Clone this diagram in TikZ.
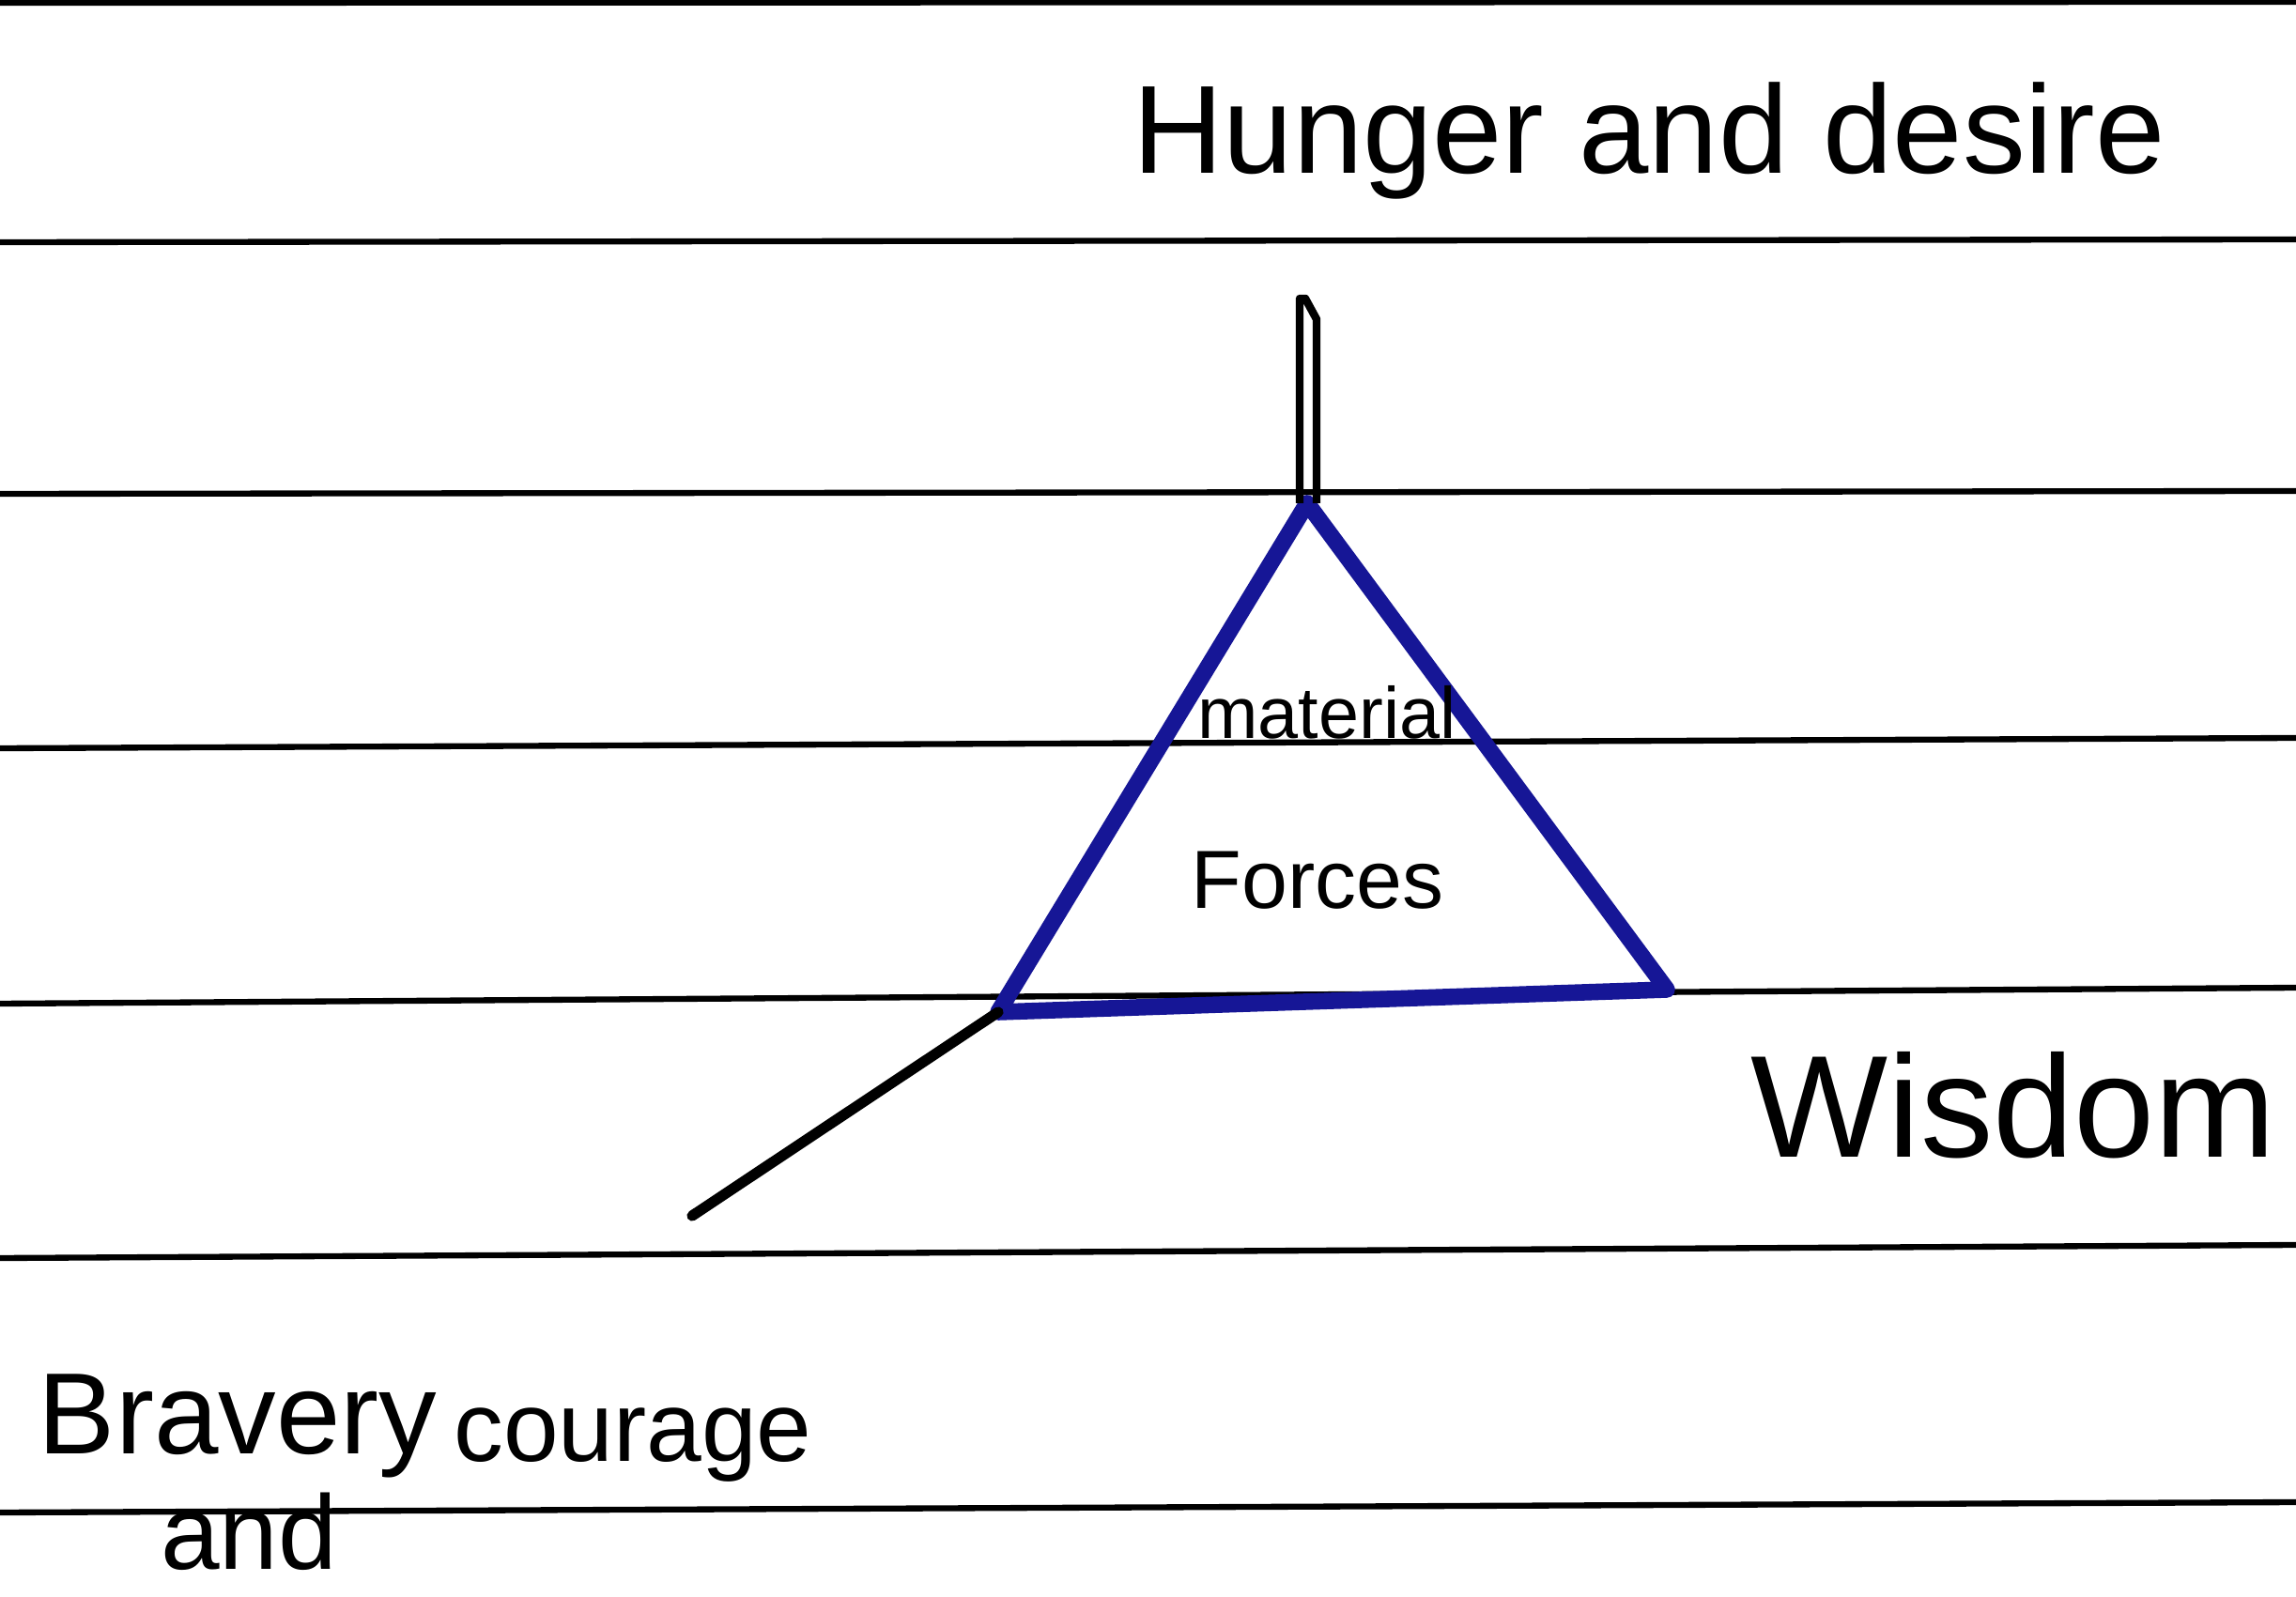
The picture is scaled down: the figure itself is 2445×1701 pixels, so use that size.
\documentclass[tikz,border=0pt]{standalone}
\usepackage{fontspec}
\setmainfont{Liberation Sans}
\usepackage{tikz}
\usetikzlibrary{calc}
\definecolor{penblue}{RGB}{22,22,150}

\begin{document}
\begin{tikzpicture}[x=0.01cm,y=-0.01cm,
  rule/.style={line width=1.8pt},
  tri/.style={draw=penblue,line width=5pt,line join=round},
  ink/.style={line width=3.2pt,line cap=round},
  stem/.style={line width=2.4pt,line join=round},
  lbl/.style={inner sep=0pt,anchor=base}]
  \useasboundingbox[fill=white] (0,0) rectangle (2445,1701);
  % ruled paper
  \foreach \yl/\yr in {3/2,258/255,526/523,797/786,1069/1052,1340/1326,1611/1600}
    \draw[rule] (0,\yl) -- (2445,\yr);
  \coordinate (apex) at (1392,536);
  \coordinate (lft) at (1063,1078);
  \coordinate (rgt) at (1775,1054);
  \coordinate (tip) at (1390,318);
  \coordinate (tail) at (737,1295);
  \draw[tri] (apex) -- (lft) -- (rgt) -- cycle;
  \draw[stem] ($(apex)+(-8,0)$) -- ($(tip)+(-6,0)$) -- (tip) -- ($(tip)+(12,22)$) -- ($(apex)+(10,0)$);
  \draw[ink] (lft) -- (tail);
  % labels
  \node[lbl,font=\fontsize{38}{40}\selectfont] (hunger) at (1756,185) {Hunger and desire};
  \node[lbl,font=\fontsize{22}{24}\selectfont] (material) at (1413,787) {material};
  \node[lbl,font=\fontsize{25}{28}\selectfont] (forces) at (1403,968) {Forces};
  \node[lbl,font=\fontsize{44}{48}\selectfont] (wisdom) at (2144,1232) {Wisdom};
  \node[lbl,font=\fontsize{35}{38}\selectfont] (bravery) at (253,1548) {Bravery};
  \node[lbl,font=\fontsize{30}{32}\selectfont] (courage) at (674,1556) {courage};
  \node[lbl,font=\fontsize{32}{34}\selectfont] (and) at (265,1671) {and};
\end{tikzpicture}
\end{document}
